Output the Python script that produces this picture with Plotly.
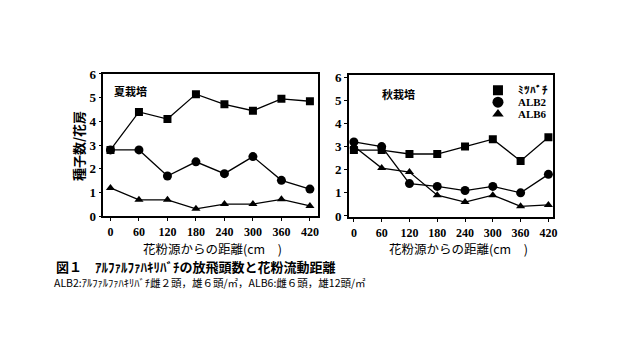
import plotly.graph_objects as go

distance = [0, 60, 120, 180, 240, 300, 360, 420]
x_ticks = [0, 60, 120, 180, 240, 300, 360, 420]
y_ticks = [0, 1, 2, 3, 4, 5, 6]

summer_bee = [2.8, 4.4, 4.1, 5.15, 4.72, 4.45, 4.95, 4.85]
summer_alb2 = [2.8, 2.8, 1.7, 2.3, 1.8, 2.52, 1.52, 1.15]
summer_alb6 = [1.2, 0.7, 0.7, 0.32, 0.52, 0.52, 0.72, 0.44]

autumn_bee = [2.85, 2.85, 2.68, 2.68, 3.0, 3.32, 2.38, 3.4]
autumn_alb2 = [3.2, 3.0, 1.4, 1.28, 1.1, 1.28, 1.0, 1.8]
autumn_alb6 = [3.02, 2.07, 1.9, 0.9, 0.6, 0.9, 0.42, 0.48]

series_names = ["ﾐﾂﾊﾞﾁ", "ALB2", "ALB6"]
symbols = ["square", "circle", "triangle-up"]
sizes = [8, 9, 8]

W, H = 635, 343
fig = go.Figure()

for axis, data in (("", [summer_bee, summer_alb2, summer_alb6]),
                   ("2", [autumn_bee, autumn_alb2, autumn_alb6])):
    for vals, sym, sz in zip(data, symbols, sizes):
        fig.add_trace(go.Scatter(
            x=distance, y=vals, mode="lines+markers",
            xaxis="x" + axis, yaxis="y" + axis,
            line=dict(color="black", width=1.3),
            marker=dict(symbol=sym, size=sz, color="black"),
            showlegend=False))

legend_ids = ["legend", "legend2", "legend3"]
legend_rows = [87, 99.5, 112]
for name, sym, sz, lid in zip(series_names, symbols, sizes, legend_ids):
    fig.add_trace(go.Scatter(
        x=[None], y=[None], mode="markers", name=name, legend=lid,
        xaxis="x2", yaxis="y2",
        marker=dict(symbol=sym, size=sz + 2, color="black")))

ytickfont = dict(family="Liberation Serif", size=13, color="black", weight="bold")
xtickfont = dict(family="Liberation Serif", size=12, color="black", weight="bold")
axis_common = dict(showgrid=False, zeroline=False, showline=True, linecolor="black",
                   linewidth=1.5, mirror=True, ticks="outside", ticklen=3,
                   tickcolor="black")

legfont = dict(family="Liberation Serif", size=11, color="black", weight="bold")
legends = {}
for lid, row in zip(legend_ids, legend_rows):
    legends[lid] = dict(x=481 / W, y=1 - row / H, xanchor="left", yanchor="middle",
                        bgcolor="rgba(0,0,0,0)", itemwidth=30, borderwidth=0,
                        font=legfont)

fig.update_layout(
    width=W, height=H, margin=dict(l=0, r=0, t=0, b=0),
    paper_bgcolor="white", plot_bgcolor="white",
    xaxis=dict(domain=[104 / W, 320 / W], range=[-15, 437], tickvals=x_ticks,
               anchor="y", tickfont=xtickfont, **axis_common),
    yaxis=dict(domain=[1 - 219 / H, 1 - 70 / H], range=[0, 6], tickvals=y_ticks,
               anchor="x", tickfont=ytickfont, **axis_common),
    xaxis2=dict(domain=[351 / W, 557 / W], range=[-11, 431], tickvals=x_ticks,
                anchor="y2", tickfont=xtickfont, **axis_common),
    yaxis2=dict(domain=[1 - 220 / H, 1 - 71 / H], range=[-0.06, 6.1], tickvals=y_ticks,
                anchor="x2", tickfont=ytickfont, **axis_common),
    **legends,
)

cjk = "Noto Sans CJK JP"
ann = [
    dict(x=113 / W, y=1 - 88 / H, text="夏栽培", xanchor="left",
         font=dict(family=cjk, size=11, color="black", weight="bold")),
    dict(x=382 / W, y=1 - 91 / H, text="秋栽培", xanchor="left",
         font=dict(family=cjk, size=11, color="black", weight="bold")),
    dict(x=79 / W, y=1 - 146 / H, text="種子数/花房", textangle=-90,
         font=dict(family=cjk, size=13, color="black", weight="bold")),
    dict(x=214 / W, y=1 - 252.5 / H, text="花粉源からの距離(cm　)",
         font=dict(family=cjk, size=12.5, color="black")),
    dict(x=461 / W, y=1 - 252.5 / H, text="花粉源からの距離(cm　)",
         font=dict(family=cjk, size=12.5, color="black")),
    dict(x=54 / W, y=1 - 271 / H, text="図１　ｱﾙﾌｧﾙﾌｧﾊｷﾘﾊﾞﾁの放飛頭数と花粉流動距離",
         xanchor="left", font=dict(family=cjk, size=13, color="black", weight="bold")),
    dict(x=52 / W, y=1 - 288 / H,
         text="ALB2:ｱﾙﾌｧﾙﾌｧﾊｷﾘﾊﾞﾁ雌２頭，雄６頭/㎡，ALB6:雌６頭，雄12頭/㎡",
         xanchor="left", font=dict(family=cjk, size=10.5, color="black")),
]
for a in ann:
    a.update(xref="paper", yref="paper", yanchor="middle", showarrow=False)
    a.setdefault("xanchor", "center")
fig.update_layout(annotations=ann)

fig.write_html("out.html")
